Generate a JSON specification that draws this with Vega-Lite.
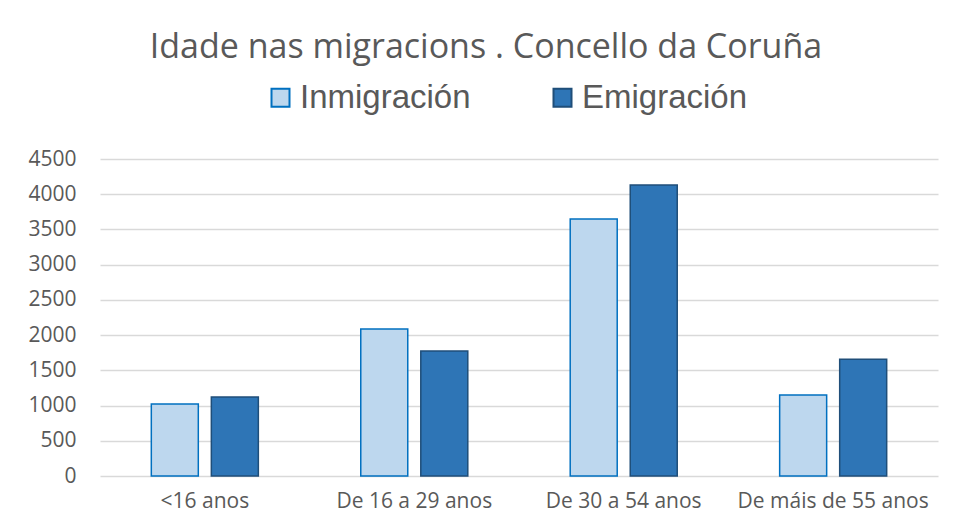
{
  "$schema": "https://vega.github.io/schema/vega-lite/v6.json",
  "autosize": "none",
  "width": 838,
  "height": 317,
  "padding": {"left": 100, "top": 159, "right": 17, "bottom": 50},
  "background": "white",
  "title": {
    "text": "Idade nas migracions . Concello da Coruña",
    "font": "Open Sans",
    "fontSize": 34,
    "fontWeight": "normal",
    "color": "#595959",
    "anchor": "middle",
    "dx": -33,
    "offset": 16
  },
  "data": {
    "values": [
      {"idade": "<16 anos", "tipo": "Inmigración", "valor": 1022},
      {"idade": "<16 anos", "tipo": "Emigración", "valor": 1121},
      {"idade": "De 16 a 29 anos", "tipo": "Inmigración", "valor": 2087},
      {"idade": "De 16 a 29 anos", "tipo": "Emigración", "valor": 1774},
      {"idade": "De 30 a 54 anos", "tipo": "Inmigración", "valor": 3648},
      {"idade": "De 30 a 54 anos", "tipo": "Emigración", "valor": 4131},
      {"idade": "De máis de 55 anos", "tipo": "Inmigración", "valor": 1150},
      {"idade": "De máis de 55 anos", "tipo": "Emigración", "valor": 1658}
    ]
  },
  "mark": {"type": "bar", "strokeWidth": 1.5},
  "encoding": {
    "x": {
      "field": "idade",
      "type": "nominal",
      "sort": null,
      "title": null,
      "scale": {"paddingInner": 0.489, "paddingOuter": 0.245},
      "axis": {
        "labelAngle": 0,
        "labelFont": "Open Sans",
        "labelFontSize": 21,
        "labelColor": "#595959",
        "labelPadding": 14,
        "labelLimit": 300,
        "ticks": false,
        "domain": false,
        "grid": false
      }
    },
    "xOffset": {
      "field": "tipo",
      "type": "nominal",
      "sort": ["Inmigración", "Emigración"],
      "scale": {"paddingInner": 0.217, "paddingOuter": 0}
    },
    "y": {
      "field": "valor",
      "type": "quantitative",
      "title": null,
      "scale": {"domain": [0, 4500], "nice": false},
      "axis": {
        "values": [0, 500, 1000, 1500, 2000, 2500, 3000, 3500, 4000, 4500],
        "format": "d",
        "labelFont": "Open Sans",
        "labelFontSize": 21,
        "labelColor": "#595959",
        "labelPadding": 24,
        "ticks": false,
        "domain": false,
        "grid": true,
        "gridColor": "#d9d9d9",
        "gridWidth": 1.5
      }
    },
    "fill": {
      "field": "tipo",
      "type": "nominal",
      "sort": ["Inmigración", "Emigración"],
      "scale": {"domain": ["Inmigración", "Emigración"], "range": ["#bdd7ee", "#2e75b6"]},
      "legend": {
        "title": null,
        "orient": "none",
        "direction": "horizontal",
        "legendX": 164,
        "legendY": -78,
        "padding": 0,
        "symbolType": "square",
        "symbolSize": 324,
        "symbolStrokeWidth": 2,
        "labelFont": "Liberation Sans",
        "labelFontSize": 33,
        "labelColor": "#595959",
        "labelOffset": 3,
        "columnPadding": 75,
        "labelLimit": 400
      }
    },
    "stroke": {
      "field": "tipo",
      "type": "nominal",
      "sort": ["Inmigración", "Emigración"],
      "scale": {"domain": ["Inmigración", "Emigración"], "range": ["#0070c0", "#1f4e79"]},
      "legend": {
        "title": null,
        "orient": "none",
        "direction": "horizontal",
        "legendX": 164,
        "legendY": -78,
        "padding": 0,
        "symbolType": "square",
        "symbolSize": 324,
        "symbolStrokeWidth": 2,
        "labelFont": "Liberation Sans",
        "labelFontSize": 33,
        "labelColor": "#595959",
        "labelOffset": 3,
        "columnPadding": 75,
        "labelLimit": 400
      }
    }
  },
  "config": {
    "view": {"stroke": null}
  }
}
